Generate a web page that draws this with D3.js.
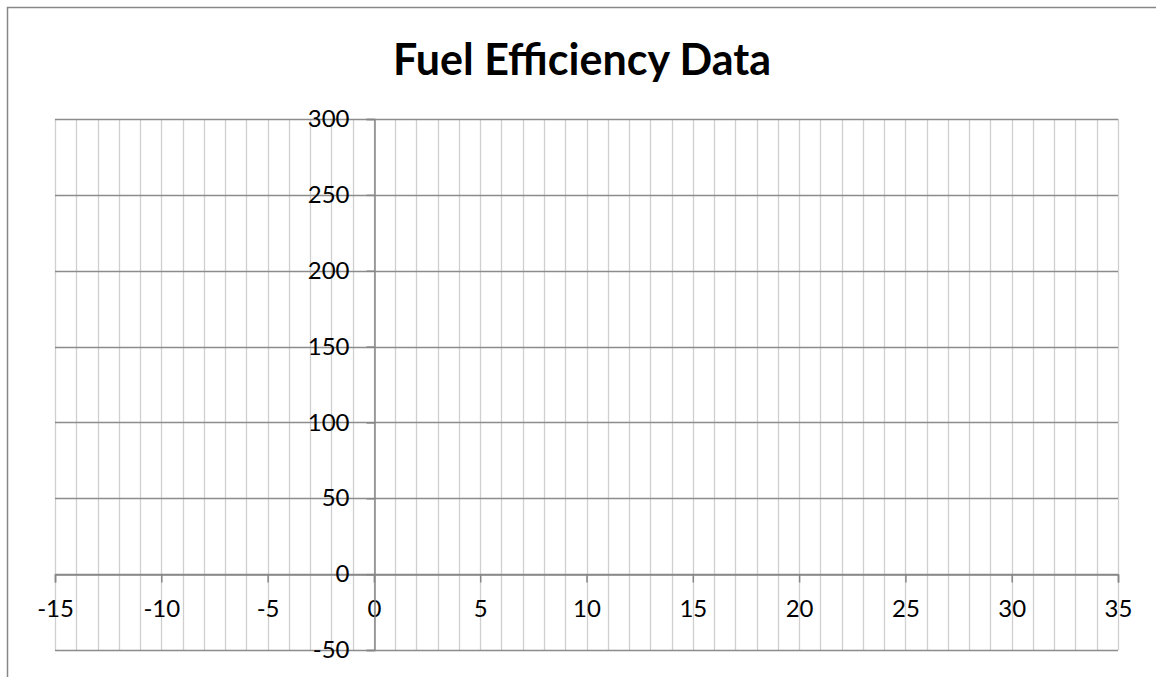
<!DOCTYPE html>
<html>
<head>
<meta charset="utf-8">
<script src="https://cdn.jsdelivr.net/npm/d3@7"></script>
<style>
  body { margin: 0; background: #fff; }
  svg text { font-family: Lato, "Liberation Sans", sans-serif; fill: #000; }
</style>
</head>
<body>
<div id="chart"></div>
<script>
const chartTitle = "Fuel Efficiency Data"
const xDomain = [-15, 35]
const yDomain = [-50, 300]
const xMajorTicks = [-15, -10, -5, 0, 5, 10, 15, 20, 25, 30, 35]
const xMinorTicks = d3.range(-15, 36, 1)
const yTicks = [-50, 0, 50, 100, 150, 200, 250, 300]
// the sheet had no rows filled in, so the series is empty
const seriesX = []
const seriesY = []

const width = 1156, height = 677
const plot = {left: 55, right: 1118, top: 119, bottom: 650}

const svg = d3.select("#chart").append("svg")
    .attr("width", width)
    .attr("height", height)

// chart frame (cut off on the right and bottom like the screenshot)
svg.append("path")
    .attr("d", `M7.5,${height} V7.5 H${width}`)
    .attr("fill", "none")
    .attr("stroke", "#878787")
    .attr("stroke-width", 1.5)

const x = d3.scaleLinear().domain(xDomain).range([plot.left, plot.right])
const y = d3.scaleLinear().domain(yDomain).range([plot.bottom, plot.top])

// excel style labels use a plain hyphen
const fmt = d => String(d)

// minor vertical gridlines
svg.append("g").selectAll("line").data(xMinorTicks)
    .join("line")
    .attr("x1", d => Math.round(x(d)) + 0.5)
    .attr("x2", d => Math.round(x(d)) + 0.5)
    .attr("y1", plot.top)
    .attr("y2", plot.bottom)
    .attr("stroke", "#cfcfcf")
    .attr("stroke-width", 1.3)

// major horizontal gridlines
svg.append("g").selectAll("line").data(yTicks)
    .join("line")
    .attr("x1", plot.left)
    .attr("x2", plot.right)
    .attr("y1", d => Math.round(y(d)) + 0.5)
    .attr("y2", d => Math.round(y(d)) + 0.5)
    .attr("stroke", "#8c8c8c")
    .attr("stroke-width", 1.5)

// x axis through y = 0
const xAxis = svg.append("g")
    .attr("transform", `translate(0,${Math.round(y(0)) + 0.5})`)
    .call(d3.axisBottom(x).tickValues(xMajorTicks).tickSize(8).tickPadding(17).tickFormat(fmt))
xAxis.select(".domain").attr("stroke", "#868686").attr("stroke-width", 1.5)
xAxis.selectAll(".tick line").attr("stroke", "#868686").attr("stroke-width", 1.5)
xAxis.selectAll(".tick text")
    .attr("font-size", 24)
    .attr("font-family", "Lato")
    .attr("fill", "#000")

// y axis through x = 0
const yAxis = svg.append("g")
    .attr("transform", `translate(${Math.round(x(0)) + 0.5},0)`)
    .call(d3.axisLeft(y).tickValues(yTicks).tickSize(8).tickPadding(17).tickFormat(fmt))
yAxis.select(".domain").attr("stroke", "#868686").attr("stroke-width", 1.5)
yAxis.selectAll(".tick line").attr("stroke", "#868686").attr("stroke-width", 1.5)
yAxis.selectAll(".tick text")
    .attr("font-size", 24)
    .attr("font-family", "Lato")
    .attr("fill", "#000")

// empty series
svg.append("g").selectAll("circle").data(d3.zip(seriesX, seriesY))
    .join("circle")
    .attr("cx", d => x(d[0]))
    .attr("cy", d => y(d[1]))
    .attr("r", 4)
    .attr("fill", "#4f81bd")

svg.append("text")
    .attr("x", 582)
    .attr("y", 75)
    .attr("text-anchor", "middle")
    .attr("font-size", 43)
    .attr("font-weight", "bold")
    .text(chartTitle)
</script>
</body>
</html>
